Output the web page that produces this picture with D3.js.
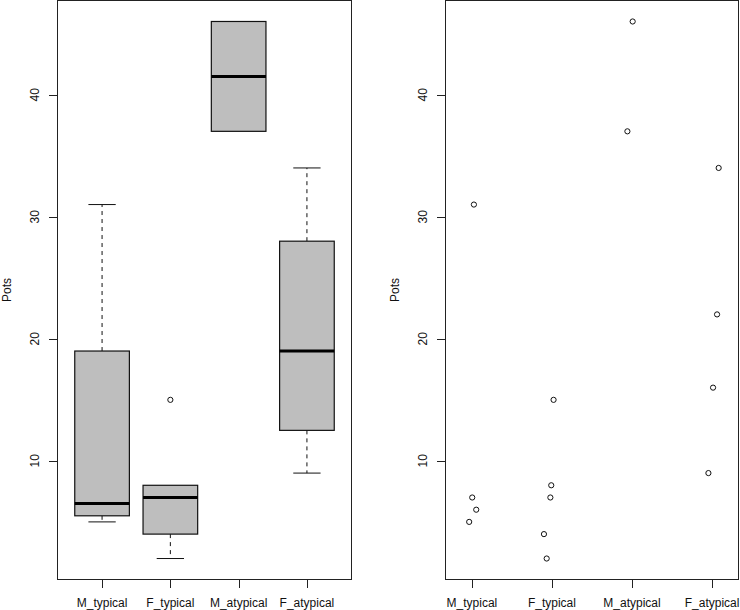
<!DOCTYPE html>
<html>
<head>
<meta charset="utf-8">
<script src="https://cdn.jsdelivr.net/npm/d3@7"></script>
<style>
  html, body { margin: 0; padding: 0; background: #fff; }
  svg { display: block; }
  text { font-family: "Liberation Sans", Arial, sans-serif; font-size: 12px; fill: #111; }
</style>
</head>
<body>
<svg id="chart" width="740" height="610"></svg>
<script>
// ---- data ----
const categories = ["M_typical", "F_typical", "M_atypical", "F_atypical"];
const M_typical = [5, 6, 7, 31];
const F_typical = [2, 4, 7, 8, 15];
const M_atypical = [37, 46];
const F_atypical = [9, 16, 22, 34];
// horizontal jitter (category units)
const M_typical_jitter = [-0.034, 0.054, 0.004, 0.025];
const F_typical_jitter = [-0.066, -0.1, -0.02, -0.009, 0.02];
const M_atypical_jitter = [-0.058, 0.008];
const F_atypical_jitter = [-0.046, 0.012, 0.062, 0.082];
const yTicks = [10, 20, 30, 40];
const yLabel = "Pots";

const groups = [M_typical, F_typical, M_atypical, F_atypical];
const jitters = [M_typical_jitter, F_typical_jitter, M_atypical_jitter, F_atypical_jitter];

const svg = d3.select("#chart");

// R-style fivenum (Tukey hinges)
function fivenum(a) {
  const x = a.slice().sort((p, q) => p - q);
  const n = x.length;
  const n4 = Math.floor((n + 3) / 2) / 2;
  const d = [1, n4, (n + 1) / 2, n + 1 - n4, n];
  return d.map(v => 0.5 * (x[Math.floor(v) - 1] + x[Math.ceil(v) - 1]));
}

const all = groups.flat();
const yMin = d3.min(all), yMax = d3.max(all);
const yPad = (yMax - yMin) * 0.04;

function makePanel(left, right, xDomain) {
  const x = d3.scaleLinear().domain(xDomain).range([left, right]);
  const y = d3.scaleLinear().domain([yMin - yPad, yMax + yPad]).range([580, 0]);
  const g = svg.append("g");
  // frame
  g.append("rect")
    .attr("x", left + 0.5).attr("y", 0.5)
    .attr("width", right - left - 1).attr("height", 579)
    .attr("fill", "none").attr("stroke", "#222").attr("stroke-width", 1);
  // y axis
  const ya = g.append("g");
  yTicks.forEach(t => {
    const yy = Math.round(y(t)) + 0.5;
    ya.append("line").attr("x1", left - 8).attr("x2", left).attr("y1", yy).attr("y2", yy)
      .attr("stroke", "#222");
    ya.append("text")
      .attr("transform", `translate(${left - 22},${y(t)}) rotate(-90)`)
      .attr("text-anchor", "middle").attr("dy", "0.35em")
      .text(t);
  });
  // x axis
  categories.forEach((c, i) => {
    const xx = Math.round(x(i + 1)) + 0.5;
    g.append("line").attr("x1", xx).attr("x2", xx).attr("y1", 580).attr("y2", 588)
      .attr("stroke", "#222");
    g.append("text").attr("x", x(i + 1)).attr("y", 603).attr("dy", "0.35em")
      .attr("text-anchor", "middle").text(c);
  });
  // y label
  g.append("text")
    .attr("transform", `translate(${left - 50},290) rotate(-90)`)
    .attr("text-anchor", "middle").attr("dy", "0.35em")
    .text(yLabel);
  return { g, x, y };
}

// ---- left panel: boxplot ----
const L = makePanel(57, 352, [0.34, 4.66]);
groups.forEach((vals, i) => {
  const [lo, q1, med, q3, hi] = fivenum(vals);
  const iqr = q3 - q1;
  const inside = vals.filter(v => v >= q1 - 1.5 * iqr && v <= q3 + 1.5 * iqr);
  const wLo = d3.min(inside), wHi = d3.max(inside);
  const outs = vals.filter(v => v < wLo || v > wHi);
  const cx = L.x(i + 1);
  const bx0 = L.x(i + 1 - 0.4), bx1 = L.x(i + 1 + 0.4);
  const cx0 = L.x(i + 1 - 0.2), cx1 = L.x(i + 1 + 0.2);
  const g = L.g;
  // whiskers
  if (wHi > q3) {
    g.append("line").attr("x1", cx).attr("x2", cx).attr("y1", L.y(q3)).attr("y2", L.y(wHi))
      .attr("stroke", "#111").attr("stroke-dasharray", "4,4");
    g.append("line").attr("x1", cx0).attr("x2", cx1).attr("y1", L.y(wHi)).attr("y2", L.y(wHi))
      .attr("stroke", "#111");
  }
  if (wLo < q1) {
    g.append("line").attr("x1", cx).attr("x2", cx).attr("y1", L.y(q1)).attr("y2", L.y(wLo))
      .attr("stroke", "#111").attr("stroke-dasharray", "4,4");
    g.append("line").attr("x1", cx0).attr("x2", cx1).attr("y1", L.y(wLo)).attr("y2", L.y(wLo))
      .attr("stroke", "#111");
  }
  // box
  g.append("rect")
    .attr("x", bx0).attr("y", L.y(q3))
    .attr("width", bx1 - bx0).attr("height", L.y(q1) - L.y(q3))
    .attr("fill", "#bebebe").attr("stroke", "#111").attr("stroke-width", 1.2);
  // median
  g.append("line").attr("x1", bx0).attr("x2", bx1).attr("y1", L.y(med)).attr("y2", L.y(med))
    .attr("stroke", "#000").attr("stroke-width", 3);
  // outliers
  outs.forEach(v => {
    g.append("circle").attr("cx", cx).attr("cy", L.y(v)).attr("r", 2.6)
      .attr("fill", "none").attr("stroke", "#111").attr("stroke-width", 1);
  });
});

// ---- right panel: strip chart ----
const R = makePanel(445, 739, [0.664, 4.336]);
groups.forEach((vals, i) => {
  vals.forEach((v, j) => {
    R.g.append("circle")
      .attr("cx", R.x(i + 1 + jitters[i][j])).attr("cy", R.y(v)).attr("r", 2.6)
      .attr("fill", "none").attr("stroke", "#111").attr("stroke-width", 1);
  });
});
</script>
</body>
</html>
